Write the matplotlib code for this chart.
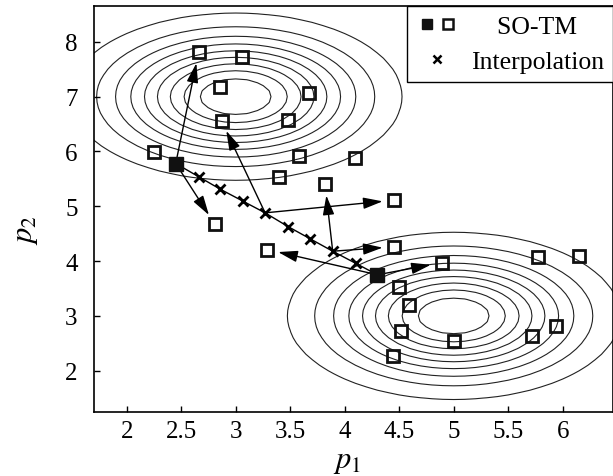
import matplotlib
matplotlib.use("Agg")
import matplotlib.pyplot as plt
import numpy as np
from matplotlib.lines import Line2D
from matplotlib.legend_handler import HandlerTuple

plt.rcParams["font.family"] = ["Liberation Serif", "DejaVu Serif"]
plt.rcParams["mathtext.fontset"] = "stix"

# Background objective: two Gaussian peaks
peak_x = [3.0, 5.0]
peak_y = [7.0, 3.0]
peak_sigma = 0.71
contour_levels = [0.1, 0.2, 0.3, 0.4, 0.5, 0.6, 0.7, 0.8, 0.9]

# SO-TM current solutions (filled squares)
solid_x = [2.45, 4.30]
solid_y = [5.78, 3.75]

# SO-TM sampled solutions (open squares)
open_x = [2.66, 3.06, 2.86, 3.67, 2.87, 3.48, 2.25, 3.58, 4.09, 3.40, 3.82, 2.81,
          4.45, 3.29, 4.45, 4.89, 5.77, 6.15, 4.50, 4.59, 4.52, 5.00, 5.72, 5.94, 4.44]
open_y = [7.81, 7.72, 7.18, 7.07, 6.56, 6.58, 5.99, 5.92, 5.88, 5.53, 5.40, 4.67,
          5.11, 4.21, 4.26, 3.97, 4.08, 4.10, 3.52, 3.20, 2.72, 2.55, 2.64, 2.81, 2.27]

# Interpolation points between the two filled squares
interp_x = [2.66, 2.86, 3.07, 3.27, 3.48, 3.68, 3.89, 4.10]
interp_y = [5.54, 5.31, 5.09, 4.88, 4.63, 4.41, 4.18, 3.96]

# Arrows: start -> end
arrow_x0 = [2.45, 2.45, 3.27, 3.27, 3.89, 3.89, 4.30, 4.30]
arrow_y0 = [5.78, 5.78, 4.88, 4.88, 4.18, 4.18, 3.75, 3.75]
arrow_x1 = [2.66, 2.81, 2.87, 4.45, 3.82, 4.45, 3.29, 4.89]
arrow_y1 = [7.81, 4.67, 6.56, 5.11, 5.40, 4.26, 4.21, 3.97]

xticks = [2, 2.5, 3, 3.5, 4, 4.5, 5, 5.5, 6]
yticks = [2, 3, 4, 5, 6, 7, 8]

fig = plt.figure(figsize=(6.13, 4.77), dpi=100)
ax = fig.add_axes([0.1538, 0.1348, 0.8462, 0.8512])

# contour field on a coarse grid
gx, gy = np.meshgrid(np.arange(0.5, 7.51, 0.1), np.arange(0.5, 9.51, 0.1))
field = np.zeros_like(gx)
for cx, cy in zip(peak_x, peak_y):
    field += np.exp(-((gx - cx) ** 2 + (gy - cy) ** 2) / (2 * peak_sigma ** 2))
ax.contour(gx, gy, field, levels=contour_levels, colors="#222222", linewidths=0.8, zorder=1)

# interpolation path
path_x = [solid_x[0]] + interp_x + [solid_x[1]]
path_y = [solid_y[0]] + interp_y + [solid_y[1]]
ax.plot(path_x, path_y, color="black", lw=1.0, zorder=2)

for x0, y0, x1, y1 in zip(arrow_x0, arrow_y0, arrow_x1, arrow_y1):
    ax.annotate("", xy=(x1, y1), xytext=(x0, y0),
                arrowprops=dict(arrowstyle="-|>,head_length=0.85,head_width=0.25",
                                color="black", lw=1.0, shrinkA=0, shrinkB=8,
                                mutation_scale=14), zorder=3)

ax.plot(interp_x, interp_y, "x", color="black", ms=7, mew=2.0, zorder=4)
ax.plot(open_x, open_y, "s", mfc="none", mec="#111111", ms=8, mew=2.0, zorder=5)
ax.plot(solid_x, solid_y, "s", color="#111111", ms=9.5, zorder=5)

ax.set_xlim(1.703, 6.461)
ax.set_ylim(1.252, 8.66)
ax.set_xticks(xticks)
ax.set_xticklabels([f"{t:g}" for t in xticks])
ax.set_yticks(yticks)
ax.tick_params(direction="in", length=4, width=1, labelsize=18, top=False, right=False)
ax.tick_params(axis="x", pad=6)
ax.tick_params(axis="y", pad=12)
for s in ax.spines.values():
    s.set_linewidth(1.2)

ax.set_xlabel(r"$p_1$", fontsize=22)
ax.set_ylabel(r"$p_2$", fontsize=22, rotation=90)
ax.xaxis.set_label_coords(0.487, -0.085)
ax.yaxis.set_label_coords(-0.105, 0.45)

# Legend
h_solid = Line2D([], [], marker="s", ls="none", color="#111111", ms=7)
h_open = Line2D([], [], marker="s", ls="none", mfc="none", mec="#111111", ms=6.5, mew=1.8)
h_x = Line2D([], [], marker="x", ls="none", color="black", ms=6, mew=1.8)
leg = ax.legend([(h_solid, h_open), h_x], ["    SO-TM", "Interpolation"],
                handler_map={tuple: HandlerTuple(ndivide=None, pad=0.0)},
                loc="upper right", bbox_to_anchor=(1.0, 1.0), borderaxespad=0,
                fontsize=18.5, fancybox=False, framealpha=1, edgecolor="black",
                handlelength=1.7, handletextpad=0.45, labelspacing=0.5, borderpad=0.35)
leg.get_frame().set_linewidth(1.0)

fig.savefig("out.png", dpi=100)
